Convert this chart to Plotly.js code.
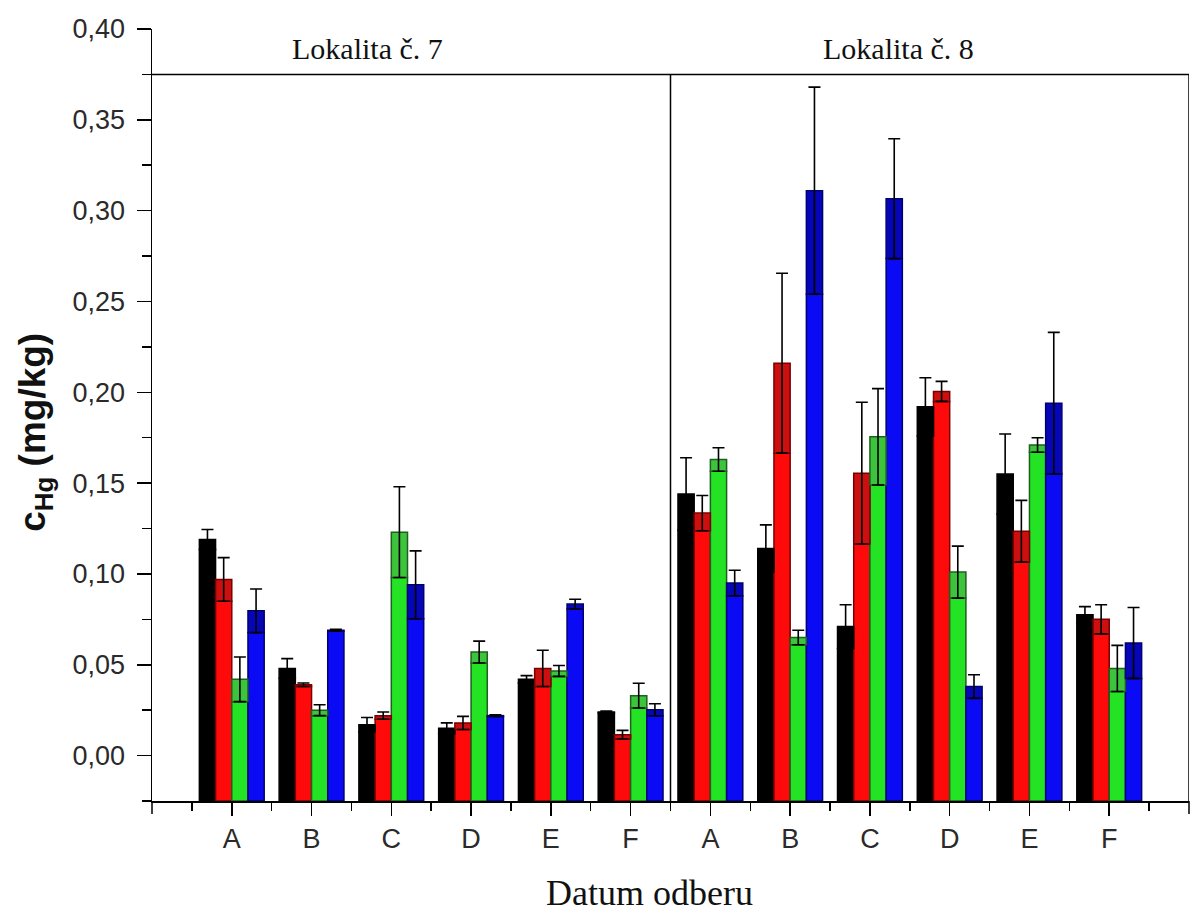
<!DOCTYPE html>
<html>
<head>
<meta charset="utf-8">
<script src="https://cdn.plot.ly/plotly-3.0.1.min.js"></script>
<style>html,body{margin:0;padding:0;background:#fff;}#chart{width:1192px;height:917px;}</style>
</head>
<body>
<div id="chart"></div>
<script>
// ---- data ----
const categories = ['A','B','C','D','E','F'];
const sites = ['Lokalita č. 7','Lokalita č. 8'];
const tickLabels = sites.flatMap(() => categories);
const xTitle = 'Datum odberu';
const yTitle = '<b>c<sub>Hg</sub> (mg/kg)</b>';

const seriesNames = ['Séria 1','Séria 2','Séria 3','Séria 4'];
const black    = [0.119, 0.048, 0.017, 0.015, 0.042, 0.024, 0.144, 0.114, 0.071, 0.192, 0.155, 0.0775];
const blackErr = [0.0055,0.0054,0.004, 0.003, 0.002, 0.0005,0.020, 0.013, 0.012, 0.016, 0.022, 0.0045];
const red      = [0.097, 0.039, 0.022, 0.018, 0.048, 0.0115,0.1335,0.216, 0.1555,0.2005,0.1235,0.075];
const redErr   = [0.012, 0.001, 0.002, 0.0036,0.010, 0.0024,0.0097,0.0495,0.039, 0.0055,0.017, 0.008];
const green    = [0.042, 0.025, 0.123, 0.057, 0.0466,0.033, 0.163, 0.065, 0.1755,0.101, 0.171, 0.048];
const greenErr = [0.0123,0.003, 0.025, 0.006, 0.003, 0.0068,0.0065,0.004, 0.0265,0.0143,0.004, 0.0127];
const blue     = [0.0797,0.069, 0.094, 0.022, 0.0834,0.0252,0.095, 0.311, 0.3066,0.038, 0.194, 0.062];
const blueErr  = [0.012, 0.0005,0.0187,0.0005,0.0027,0.0033,0.007, 0.057, 0.033, 0.0065,0.039, 0.0195];

const values = [black, red, green, blue];
const errors = [blackErr, redErr, greenErr, blueErr];
const fills    = ['#000000','#ff0a0a','#24e324','#0a0af5'];
const darkFills= ['#000000','#cc1010','#3cc43c','#0606b8'];
const outlines = ['#000000','#7a0000','#1f5f1f','#000070'];

const yMin = -0.025, yMax = 0.40, boxTop = 0.375;

// ---- traces ----
const xs = tickLabels.map((_, i) => i + 1);
const traces = [];
values.forEach((v, s) => {
  traces.push({
    type: 'bar', x: xs, base: yMin, y: v.map((d, i) => d - errors[s][i] - yMin),
    offsetgroup: 'g' + s, name: seriesNames[s], showlegend: false,
    marker: {color: fills[s], line: {color: outlines[s], width: 1.5}},
    hoverinfo: 'skip'
  });
});
values.forEach((v, s) => {
  traces.push({
    type: 'bar', x: xs, base: v.map((d, i) => d - errors[s][i]), y: errors[s],
    offsetgroup: 'g' + s, name: seriesNames[s], showlegend: false,
    marker: {color: darkFills[s], line: {color: outlines[s], width: 1.5}},
    error_y: {type: 'data', array: errors[s], visible: true, color: '#000', thickness: 1.6, width: 6},
    customdata: v, hovertemplate: '%{customdata}<extra></extra>'
  });
});

const nPos = tickLabels.length + 1;
const serif = 'Liberation Serif, Times New Roman, serif';
const endTick = x => ({type: 'line', xref: 'paper', yref: 'paper', ysizemode: 'pixel', yanchor: 0,
  x0: x, x1: x, y0: 0, y1: -13, line: {color: '#000', width: 1.5}});

const layout = {
  width: 1192, height: 917,
  paper_bgcolor: '#fff', plot_bgcolor: '#fff',
  margin: {l: 152, r: 3, t: 29, b: 116},
  separators: ',.',
  barmode: 'group', bargap: 0.1875, bargroupgap: 0,
  showlegend: false,
  font: {family: 'Liberation Sans, Arial, sans-serif', color: '#222'},
  xaxis: {
    range: [0, nPos], showgrid: false, zeroline: false,
    showline: true, linecolor: '#000', linewidth: 1.5,
    tickmode: 'array', tickvals: xs, ticktext: tickLabels,
    ticks: 'outside', ticklen: 13, tickwidth: 1.5, tickcolor: '#000',
    minor: {tickmode: 'linear', tick0: 0.5, dtick: 1, ticks: 'outside', ticklen: 8, tickwidth: 1.5, tickcolor: '#000'},
    tickfont: {size: 27, color: '#2a2a2a'}
  },
  yaxis: {
    range: [yMin, yMax], showgrid: false, zeroline: false,
    showline: true, linecolor: '#000', linewidth: 1.5,
    tick0: 0, dtick: 0.05, tickformat: '.2f',
    ticks: 'outside', ticklen: 14, tickwidth: 1.5, tickcolor: '#000',
    minor: {tick0: 0.025, dtick: 0.05, ticks: 'outside', ticklen: 9, tickwidth: 1.5, tickcolor: '#000'},
    tickfont: {size: 27, color: '#2a2a2a'},
    ticklabelstandoff: 6
  },
  shapes: [
    {type: 'line', xref: 'x', yref: 'y', x0: 0, x1: nPos, y0: boxTop, y1: boxTop, line: {color: '#000', width: 1.5}},
    {type: 'line', xref: 'x', yref: 'y', x0: nPos, x1: nPos, y0: yMin, y1: boxTop, line: {color: '#000', width: 1.5}},
    {type: 'line', xref: 'x', yref: 'y', x0: categories.length + 0.5, x1: categories.length + 0.5, y0: yMin, y1: boxTop, line: {color: '#000', width: 1.5}},
    endTick(0), endTick(1)
  ],
  annotations: [
    {xref: 'x', yref: 'y', x: 2.7, y: 0.389, text: sites[0], showarrow: false,
     font: {family: serif, size: 30, color: '#111'}},
    {xref: 'x', yref: 'y', x: 9.36, y: 0.389, text: sites[1], showarrow: false,
     font: {family: serif, size: 30, color: '#111'}},
    {xref: 'paper', yref: 'paper', x: 0.48, y: -0.1195, xanchor: 'center', yanchor: 'middle',
     text: xTitle, showarrow: false, font: {family: serif, size: 36, color: '#111'}},
    {xref: 'paper', yref: 'paper', x: -0.113, y: 0.478, xanchor: 'center', yanchor: 'middle',
     textangle: -90, text: yTitle, showarrow: false,
     font: {family: 'Liberation Sans, Arial, sans-serif', size: 37, color: '#111'}}
  ]
};

Plotly.newPlot('chart', traces, layout, {displayModeBar: false, staticPlot: true});
</script>
</body>
</html>
